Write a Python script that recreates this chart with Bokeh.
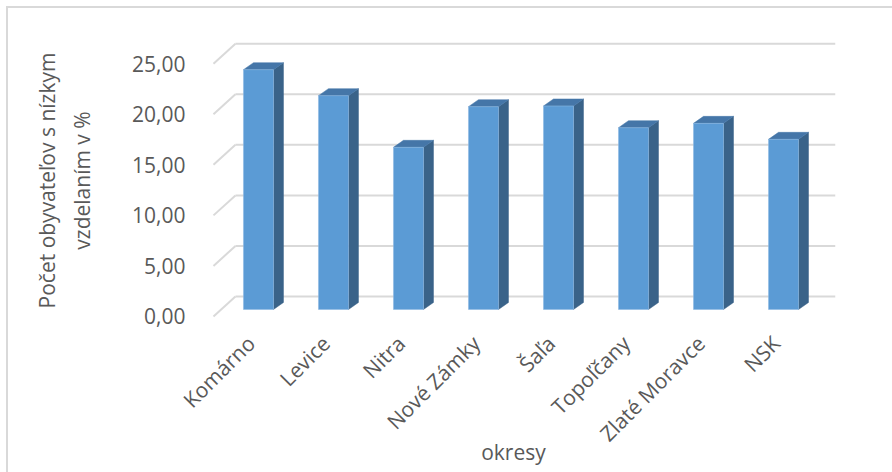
import numpy as np
from bokeh.plotting import figure
from bokeh.models import Range1d, FixedTicker, InlineStyleSheet
from bokeh.embed import file_html
from bokeh.resources import INLINE

# ---- data ----
categories = ["Komárno", "Levice", "Nitra", "Nové Zámky", "Šaľa",
              "Topoľčany", "Zlaté Moravce", "NSK"]
values = [23.72, 21.15, 16.04, 20.06, 20.13, 17.98, 18.41, 16.83]
y_ticks = [0, 5, 10, 15, 20, 25]
y_tick_labels = ["0,00", "5,00", "10,00", "15,00", "20,00", "25,00"]
y_title = "Počet obyvateľov s nízkym\nvzdelaním v %"
x_title = "okresy"

# ---- style ----
FONT = "Open Sans"
TXT = "#595959"
GRID = "#D9D9D9"
FRONT = "#5B9BD5"
SIDE = "#3A6389"
TOP = "#4576A8"
WALL_DX, WALL_DY = 0.293, 1.976      # depth of the back wall
BAR_DX, BAR_DY = 0.133, 0.692        # depth of each bar
BAR_SHIFT, BAR_HALF, BAR_BASE = 0.1, 0.2, 0.692

n = len(categories)
p = figure(width=892, height=472,
           x_range=Range1d(-0.5 - WALL_DX, n - 0.5 + WALL_DX),
           y_range=Range1d(-0.3, 27.2),
           min_border_left=191, min_border_right=57,
           min_border_top=41, min_border_bottom=153,
           output_backend="svg", toolbar_location=None, tools="")
p.grid.visible = False
p.outline_line_color = None
# outer chart-area border: only its left and top edges fall inside the window
p.stylesheets = [InlineStyleSheet(css=(
    ":host::after { content: ''; position: absolute; left: 6px; top: 6px; "
    "width: calc(100% - 8px); height: calc(100% - 8px); "
    f"border-left: 2px solid {GRID}; border-top: 2px solid {GRID}; "
    "pointer-events: none; z-index: 10; }"
))]

# back wall gridlines and side-floor diagonals
yt = np.array(y_ticks, dtype=float)
p.segment(x0=np.full(len(yt), -0.5 + WALL_DX), y0=yt + WALL_DY,
          x1=np.full(len(yt), n - 0.5 + WALL_DX), y1=yt + WALL_DY,
          line_color=GRID, line_width=2)
p.segment(x0=np.full(len(yt), -0.5), y0=yt,
          x1=np.full(len(yt), -0.5 + WALL_DX), y1=yt + WALL_DY,
          line_color=GRID, line_width=2)

# 3D bars
xs = np.arange(n)
v = np.array(values)
left = xs + BAR_SHIFT - BAR_HALF
right = xs + BAR_SHIFT + BAR_HALF
bottom = np.full(n, BAR_BASE)
top = v + BAR_BASE

side_x = [[r, r + BAR_DX, r + BAR_DX, r] for r in right]
side_y = [[b, b + BAR_DY, t + BAR_DY, t] for b, t in zip(bottom, top)]
top_x = [[l, l + BAR_DX, r + BAR_DX, r] for l, r in zip(left, right)]
top_y = [[t, t + BAR_DY, t + BAR_DY, t] for t in top]

p.patches(side_x, side_y, fill_color=SIDE, line_color=SIDE, line_width=0.5)
p.patches(top_x, top_y, fill_color=TOP, line_color=TOP, line_width=0.5)
p.quad(left=left, right=right, bottom=bottom, top=top,
       fill_color=FRONT, line_color="#8DB8E3", line_width=0.6)

# axes
p.yaxis.ticker = FixedTicker(ticks=y_ticks)
p.yaxis.major_label_overrides = {t: s for t, s in zip(y_ticks, y_tick_labels)}
p.yaxis.axis_label = y_title
p.yaxis.axis_label_text_line_height = 1.25
p.yaxis.axis_label_standoff = 33
p.yaxis.major_label_standoff = 0

p.xaxis.ticker = FixedTicker(ticks=list(xs))
p.xaxis.major_label_overrides = {int(i): c for i, c in zip(xs, categories)}
p.xaxis.major_label_orientation = np.pi / 4
p.xaxis.major_label_standoff = 14
p.xaxis.axis_label = x_title
p.xaxis.axis_label_standoff = -22

for ax in (p.xaxis, p.yaxis):
    ax.axis_line_color = None
    ax.major_tick_line_color = None
    ax.minor_tick_line_color = None
    ax.major_label_text_font = FONT
    ax.major_label_text_font_size = "21px"
    ax.major_label_text_color = TXT
    ax.axis_label_text_font = FONT
    ax.axis_label_text_font_size = "21px"
    ax.axis_label_text_font_style = "normal"
    ax.axis_label_text_color = TXT

open("out.html", "w").write(file_html(p, INLINE))
